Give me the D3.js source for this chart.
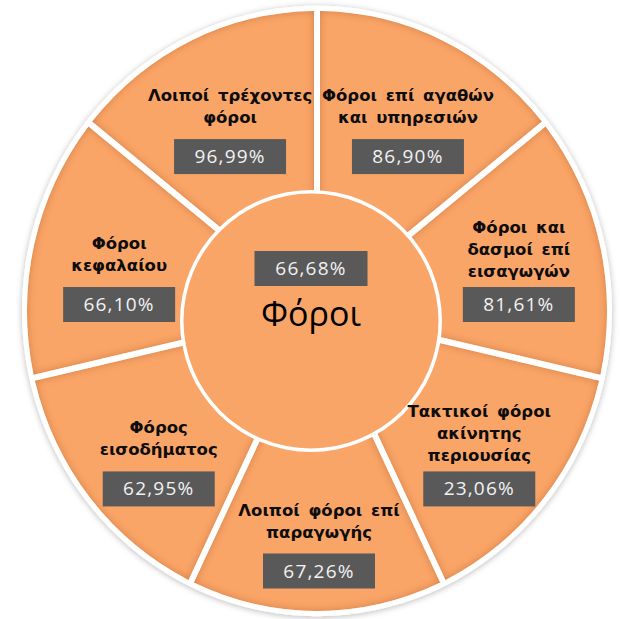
<!DOCTYPE html>
<html>
<head>
<meta charset="utf-8">
<script src="https://d3js.org/d3.v7.min.js"></script>
<style>
  body { margin: 0; background: #fff; }
</style>
</head>
<body>
<script>

// ---- data ----
var rootName = "Φόροι";
var rootValue = 66.68;

// clockwise from 12 o'clock
var categories = [
  "Φόροι επί αγαθών και υπηρεσιών",
  "Φόροι και δασμοί επί εισαγωγών",
  "Τακτικοί φόροι ακίνητης περιουσίας",
  "Λοιποί φόροι επί παραγωγής",
  "Φόρος εισοδήματος",
  "Φόροι κεφαλαίου",
  "Λοιποί τρέχοντες φόροι"
];
var labelLines = [
  ["Φόροι επί αγαθών", "και υπηρεσιών"],
  ["Φόροι και", "δασμοί επί", "εισαγωγών"],
  ["Τακτικοί φόροι", "ακίνητης", "περιουσίας"],
  ["Λοιποί φόροι επί", "παραγωγής"],
  ["Φόρος", "εισοδήματος"],
  ["Φόροι", "κεφαλαίου"],
  ["Λοιποί τρέχοντες", "φόροι"]
];
var values = [86.90, 81.61, 23.06, 67.26, 62.95, 66.10, 96.99];

// ---- layout ----
var width = 625, height = 619;
var cx = 317, cy = 311, R = 290, sy = 300 / 290;
var hubX = 311, hubY = 321, hubR = 129;
// value boxes sit on an ellipse, the category text stacks above them
var labX = 319, labY = 353, labRx = 205, labRy = 218;
var orange = "#FAA568";

var fmt = d3.formatLocale({decimal: ",", thousands: ".", grouping: [3], currency: ["", "€"]}).format(".2f");
function pct(v) { return fmt(v) + "%"; }

var svg = d3.select("body").append("svg")
    .attr("width", width)
    .attr("height", height);

var defs = svg.append("defs");

// inner shadow for the bevelled look
var bevel = defs.append("filter").attr("id", "bevel")
    .attr("x", "-5%").attr("y", "-5%").attr("width", "110%").attr("height", "110%");
bevel.append("feGaussianBlur").attr("in", "SourceAlpha").attr("stdDeviation", 4).attr("result", "blur");
bevel.append("feComposite").attr("in", "SourceAlpha").attr("in2", "blur")
    .attr("operator", "arithmetic").attr("k2", 1).attr("k3", -1).attr("result", "edge");
bevel.append("feFlood").attr("flood-color", "#B8642E").attr("flood-opacity", 0.7).attr("result", "col");
bevel.append("feComposite").attr("in", "col").attr("in2", "edge").attr("operator", "in").attr("result", "shade");
var m = bevel.append("feMerge");
m.append("feMergeNode").attr("in", "SourceGraphic");
m.append("feMergeNode").attr("in", "shade");

var rimShadow = defs.append("filter").attr("id", "rimShadow")
    .attr("x", "-10%").attr("y", "-10%").attr("width", "120%").attr("height", "120%");
rimShadow.append("feGaussianBlur").attr("in", "SourceAlpha").attr("stdDeviation", 3).attr("result", "b");
rimShadow.append("feOffset").attr("in", "b").attr("dx", 0).attr("dy", 1).attr("result", "o");
rimShadow.append("feFlood").attr("flood-color", "#000").attr("flood-opacity", 0.28).attr("result", "c");
rimShadow.append("feComposite").attr("in", "c").attr("in2", "o").attr("operator", "in").attr("result", "s");
var m2 = rimShadow.append("feMerge");
m2.append("feMergeNode").attr("in", "s");
m2.append("feMergeNode").attr("in", "SourceGraphic");

// ---- ring ----
var ring = svg.append("g")
    .attr("transform", "translate(" + cx + "," + cy + ") scale(1," + sy + ")");

ring.append("circle")
    .attr("r", R + 5)
    .attr("fill", "#fff")
    .attr("filter", "url(#rimShadow)");

var pie = d3.pie().sort(null).value(function() { return 1; });
var arcs = pie(values);

var arc = d3.arc()
    .innerRadius(100)
    .outerRadius(R)
    .padRadius(R)
    .padAngle(6 / R);

ring.selectAll("path.seg")
  .data(arcs)
  .enter().append("path")
    .attr("class", "seg")
    .attr("d", arc)
    .attr("fill", orange)
    .attr("filter", "url(#bevel)");

// ---- hub ----
svg.append("circle")
    .attr("cx", hubX).attr("cy", hubY)
    .attr("r", hubR + 2)
    .attr("fill", "#fff");
svg.append("circle")
    .attr("cx", hubX).attr("cy", hubY)
    .attr("r", hubR - 1.5)
    .attr("fill", orange);

function valueBox(g, x, yTop, text, w) {
  g.append("rect")
      .attr("x", x - w / 2).attr("y", yTop)
      .attr("width", w).attr("height", 35)
      .attr("fill", "#595959");
  g.append("text")
      .attr("x", x).attr("y", yTop + 24)
      .attr("text-anchor", "middle")
      .attr("fill", "#F2F2F2")
      .attr("font-family", "'Open Sans', 'Noto Sans', sans-serif")
      .attr("font-size", 19)
      .attr("letter-spacing", 1.2)
      .text(text);
}

var hub = svg.append("g");
valueBox(hub, hubX, hubY - 70, pct(rootValue), 113);
hub.append("text")
    .attr("x", hubX).attr("y", hubY + 5)
    .attr("text-anchor", "middle")
    .attr("fill", "#000")
    .attr("font-family", "'Open Sans', 'Noto Sans', sans-serif")
    .attr("font-size", 34)
    .text(rootName);

// ---- segment labels ----
var lineH = 22;
arcs.forEach(function(d, i) {
  var a = (d.startAngle + d.endAngle) / 2;
  var x = labX + labRx * Math.sin(a);
  var boxTop = labY - labRy * Math.cos(a) - 17.5;
  var lines = labelLines[i];
  var n = lines.length;
  var gap = n > 2 ? 10 : 16;
  var g = svg.append("g").attr("class", "label").attr("data-cat", categories[i]);
  lines.forEach(function(t, k) {
    g.append("text")
        .attr("x", x).attr("y", boxTop - gap - (n - 1 - k) * lineH)
        .attr("text-anchor", "middle")
        .attr("fill", "#0D0D0D")
        .attr("font-family", "'DejaVu Sans', Verdana, sans-serif")
        .attr("font-weight", "bold")
        .attr("font-size", 16.5)
        .attr("word-spacing", 3)
        .text(t);
  });
  valueBox(g, x, boxTop, pct(values[i]), 112);
});

</script>
</body>
</html>
